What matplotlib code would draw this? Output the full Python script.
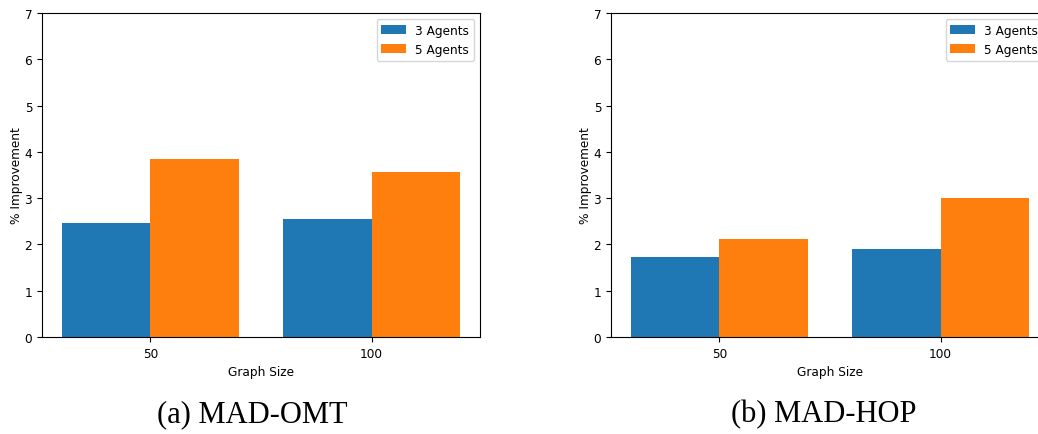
import numpy as np
import matplotlib.pyplot as plt

graph_sizes = ['50', '100']
omt_3_agents = [2.47, 2.55]
omt_5_agents = [3.85, 3.57]
hop_3_agents = [1.72, 1.90]
hop_5_agents = [2.11, 3.00]

W, H = 1038, 435
fig = plt.figure(figsize=(W / 100, H / 100), dpi=100)
fs = 8.7


def draw_panel(ax, vals3, vals5):
    x = np.arange(len(graph_sizes))
    width = 0.4
    ax.bar(x - width / 2, vals3, width, label='3 Agents', color='#1f77b4')
    ax.bar(x + width / 2, vals5, width, label='5 Agents', color='#ff7f0e')
    ax.set_xticks(x)
    ax.set_xticklabels(graph_sizes)
    ax.set_ylim(0, 7)
    ax.set_xlabel('Graph Size', fontsize=fs)
    ax.set_ylabel('% Improvement', fontsize=fs, labelpad=1)
    ax.tick_params(labelsize=fs)
    ax.legend(loc='upper right', fontsize=fs)


# axes placed in pixel terms; the right one runs past the figure edge like the original
ax1 = fig.add_axes([42 / W, (H - 338) / H, 438 / W, 324 / H])
ax2 = fig.add_axes([611 / W, (H - 338) / H, 438 / W, 324 / H])
draw_panel(ax1, omt_3_agents, omt_5_agents)
draw_panel(ax2, hop_3_agents, hop_5_agents)

fig.text(252 / W, 1 - 415 / H, '(a) MAD-OMT', ha='center', va='center',
         family='Liberation Serif', fontsize=22)
fig.text(824 / W, 1 - 415 / H, '(b) MAD-HOP', ha='center', va='center',
         family='Liberation Serif', fontsize=22)

fig.savefig('out.png', dpi=100)
